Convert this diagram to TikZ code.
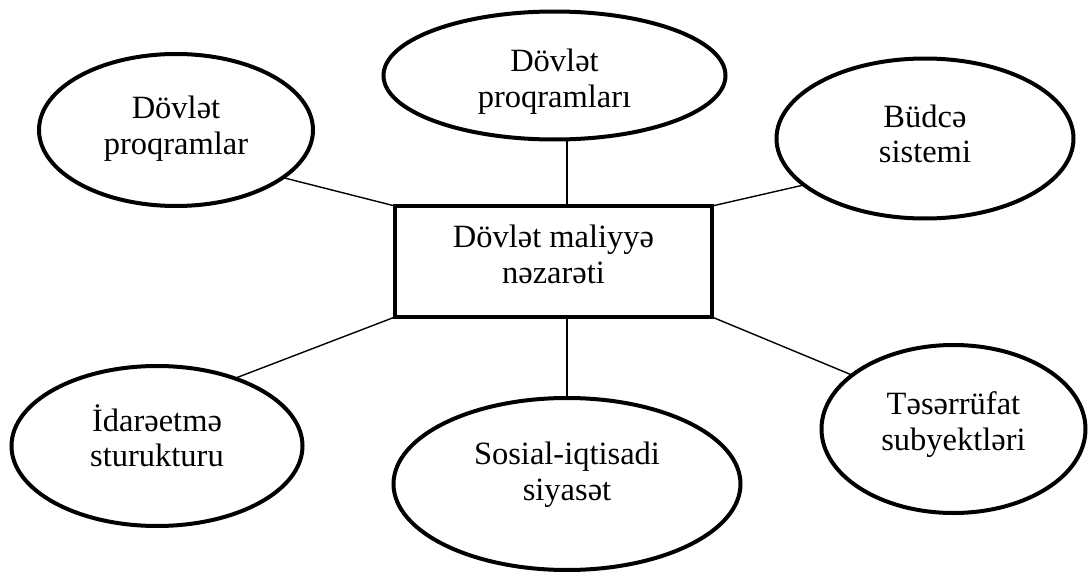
\documentclass[tikz,border=0pt]{standalone}
\usepackage{fontspec}
\setmainfont{Liberation Serif}
\usepackage{tikz}
\usetikzlibrary{shapes.geometric}
\newcommand{\rimwidth}{2pt}
\newcommand{\linkwidth}{0.7pt}
\newcommand{\textsize}{\fontsize{16.25pt}{17.75pt}\selectfont}
\tikzset{
  oval/.style={ellipse,draw,line width=\rimwidth,inner sep=0pt,outer sep=0pt,align=center,font=\textsize},
  centrebox/.style={rectangle,draw,line width=\rimwidth,inner sep=0pt,outer sep=0pt,align=center,font=\textsize,
    minimum width=158.5pt,minimum height=55.5pt},
  textbase/.style={text height=#1,text depth=0pt},
  link/.style={line width=\linkwidth}
}

\begin{document}
\begin{tikzpicture}[x=0.5pt,y=-0.5pt]
\useasboundingbox (0,0) rectangle (1089,573);
\node[centrebox, textbase=21.5pt] (0) at (553.5, 261.5) {Dövlət maliyyə\\nəzarəti};
\node[oval, textbase=24pt, minimum width=137pt, minimum height=76pt] (1) at (176, 130) {Dövlət\\proqramlar};
\node[oval, textbase=31.5pt, minimum width=171pt, minimum height=64pt] (2) at (554.5, 75.5) {Dövlət\\proqramları};
\node[oval, textbase=24pt, minimum width=148.5pt, minimum height=80pt] (3) at (925, 138.5) {Büdcə\\sistemi};
\node[oval, textbase=20.7pt, minimum width=145.5pt, minimum height=80pt] (4) at (157, 446) {İdarəetmə\\sturukturu};
\node[oval, textbase=16pt, minimum width=173.5pt, minimum height=86pt] (5) at (567, 484) {Sosial-iqtisadi\\siyasət};
\node[oval, textbase=21pt, minimum width=132pt, minimum height=84pt] (6) at (953.5, 429) {Təsərrüfat\\subyektləri};
%links
\draw[link] (0.north west) -- (1.-24);
\draw[link] (0.north -| 5.north) -- (2.south -| 5.north);
\draw[link] (0.north east) -- (3.201);
\draw[link] (0.south west) -- (4.41);
\draw[link] (0.south -| 5.north) -- (5.north);
\draw[link] (0.south east) -- (6.152);
\end{tikzpicture}
\end{document}
